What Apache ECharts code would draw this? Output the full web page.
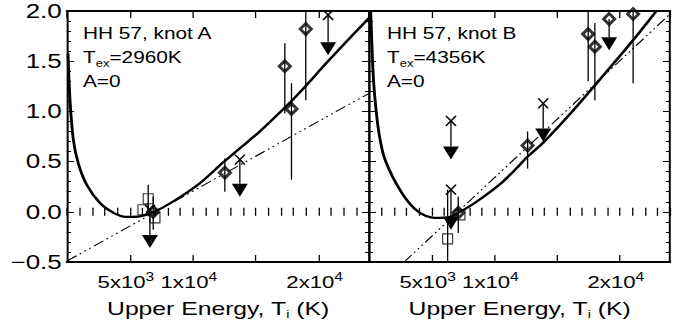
<!DOCTYPE html>
<html>
<head>
<meta charset="utf-8">
<script src="https://cdn.jsdelivr.net/npm/echarts@6/dist/echarts.min.js"></script>
<style>
  html, body { margin: 0; padding: 0; background: #fff; overflow: hidden; }
  #wrap { width: 675px; height: 322px; overflow: hidden; }
  /* the plot is laid out on a narrower canvas and widened, giving the wide lettering of the figure */
  #chart { width: 519px; height: 322px; transform: scaleX(1.3006); transform-origin: 0 0; }
</style>
</head>
<body>
<div id="wrap"><div id="chart"></div></div>
<script>
// ---- axes ----
const X_MIN = 0, X_MAX = 24000;
const Y_MIN = -0.5, Y_MAX = 2.0;
const xLabelValues = [5000, 10000, 20000];
const xLabelBase = ['5x10', '1x10', '2x10'];
const xLabelPower = ['3', '4', '4'];

// ---- knot A ----
const fitA = [[80,1.58],[240,1.11],[500,0.72],[900,0.48],[1560,0.27],[2600,0.09],[3700,-0.01],[4700,-0.05],
  [5800,-0.045],[6850,-0.005],[8400,0.10],[10560,0.285],[12400,0.49],[14530,0.716],[15320,0.80],
  [17970,1.12],[20750,1.50],[22470,1.73],[24000,1.93]];
const lineA = [[0,-0.49],[24000,1.18]];
// [T, value, lower, upper]
const diamondsA = [[6850,0.0,-0.18,0.15],[12545,0.39,0.20,0.53],[17310,1.45,0.98,1.68],[17840,1.025,0.32,1.28],[18977,1.82,1.11,2.1]];
const squaresA = [[6455,0.13,0.0,0.27],[6035,0.02,0.02,0.02],[6990,-0.06,-0.06,-0.06]];
// [T, value, arrow tip, cross drawn (1) or not (0)]
const limitsA = [[6590,0.02,-0.36,1],[13736,0.52,0.15,1],[20750,1.96,1.56,1]];

// ---- knot B ----
const fitB = [[120,2.05],[300,1.45],[480,1.12],[800,0.78],[1276,0.52],[2608,0.19],[3931,0.0],[5263,-0.06],
  [6324,-0.055],[7121,-0.01],[8453,0.09],[10582,0.29],[12040,0.47],[12645,0.55],[13900,0.69],[16000,0.97],
  [18150,1.28],[21060,1.71],[22920,2.0],[23700,2.12]];
const lineB = [[2800,-0.5],[24000,1.97]];
const diamondsB = [[7116,-0.01,-0.21,0.15],[12645,0.66,0.43,0.80],[17475,1.77,1.30,2.1],[18010,1.645,1.11,1.88],[19147,1.92,1.92,1.92],[21060,1.97,1.28,2.1]];
const squaresB = [[6270,-0.27,-0.55,0.22],[7250,-0.03,-0.03,-0.03]];
const limitsB = [[6534,0.905,0.52,1],[6534,0.22,-0.18,1],[13890,1.08,0.70,1],[19147,1.92,1.61,0]];

// ---- labels ----
const panelNames = ['HH 57, knot A', 'HH 57, knot B'];
const panelTex = ['2960', '4356'];
const panelAValue = ['0', '0'];

const K = 1 / 1.3006;           // horizontal compensation for the widened canvas
const FONT = 'Liberation Sans, Arial, Helvetica, sans-serif';

const chart = echarts.init(document.getElementById('chart'), null, { renderer: 'svg' });

function clampY(v) { return Math.max(Y_MIN, Math.min(Y_MAX, v)); }

function renderErrorBar(params, api) {
  const x = api.value(0);
  const lo = clampY(api.value(2)), hi = clampY(api.value(3));
  if (lo === hi) return null;
  const p1 = api.coord([x, lo]), p2 = api.coord([x, hi]);
  return { type: 'line', shape: { x1: p1[0], y1: p1[1], x2: p2[0], y2: p2[1] },
    style: { stroke: '#000', lineWidth: 1 } };
}

function renderLimit(params, api) {
  const c = api.coord([api.value(0), api.value(1)]);
  const t = api.coord([api.value(0), api.value(2)]);
  const hx = 5 * K, hy = 5, tw = 8 * K, th = 13;
  const children = [
    { type: 'line', shape: { x1: c[0], y1: c[1], x2: t[0], y2: t[1]-th }, style: { stroke: '#000', lineWidth: 1 } },
    { type: 'polygon', shape: { points: [[t[0]-tw, t[1]-th], [t[0]+tw, t[1]-th], [t[0], t[1]]] }, style: { fill: '#000' } }
  ];
  if (api.value(3) === 1) {
    children.push(
      { type: 'line', shape: { x1: c[0]-hx, y1: c[1]-hy, x2: c[0]+hx, y2: c[1]+hy }, style: { stroke: '#000', lineWidth: 1.3 } },
      { type: 'line', shape: { x1: c[0]-hx, y1: c[1]+hy, x2: c[0]+hx, y2: c[1]-hy }, style: { stroke: '#000', lineWidth: 1.3 } });
  }
  return { type: 'group', children };
}

function xAxes(gridIndex, withLabels) {
  const base = { type: 'value', gridIndex, min: X_MIN, max: X_MAX, splitLine: { show: false } };
  return [
    Object.assign({}, base, {
      position: 'bottom', interval: 5000,
      axisLine: { show: true, onZero: false, lineStyle: { color: '#000', width: 2 } },
      axisTick: { show: true, inside: true, length: 7, lineStyle: { color: '#000', width: 1 } },
      axisLabel: withLabels ? {
        show: true, margin: 9, showMinLabel: false, showMaxLabel: false, padding: [0, 8 * K, 0, 0],
        formatter: v => { const i = xLabelValues.indexOf(v); return i < 0 ? '' : '{m|' + xLabelBase[i] + '}{s|' + xLabelPower[i] + '}'; },
        rich: { m: { fontSize: 17, fontFamily: FONT, color: '#000', lineHeight: 22 },
                s: { fontSize: 12, fontFamily: FONT, color: '#000', verticalAlign: 'top', lineHeight: 22 } }
      } : { show: false },
      name: 'Upper Energy, T{i|i} (K)', nameLocation: 'middle', nameGap: 36,
      nameTextStyle: { fontSize: 19, fontFamily: FONT, color: '#000',
        rich: { i: { fontSize: 11, fontFamily: FONT, color: '#000', verticalAlign: 'bottom', lineHeight: 22 } } }
    }),
    Object.assign({}, base, {
      position: 'top', interval: 5000,
      axisLine: { show: true, onZero: false, lineStyle: { color: '#000', width: 2 } },
      axisTick: { show: true, inside: true, length: 7, lineStyle: { color: '#000', width: 1 } },
      axisLabel: { show: false }
    }),
    Object.assign({}, base, {
      position: 'bottom', interval: 1000,
      axisLine: { show: false },
      axisTick: { show: true, inside: true, length: 4, lineStyle: { color: '#000', width: 1 } },
      axisLabel: { show: false }
    }),
    Object.assign({}, base, {
      position: 'top', interval: 1000,
      axisLine: { show: false },
      axisTick: { show: true, inside: true, length: 4, lineStyle: { color: '#000', width: 1 } },
      axisLabel: { show: false }
    })
  ];
}

function yAxes(gridIndex, withLabels) {
  const base = { type: 'value', gridIndex, min: Y_MIN, max: Y_MAX, interval: 0.5, splitLine: { show: false },
    axisLine: { show: true, onZero: false, lineStyle: { color: '#000', width: 2 * K } },
    axisTick: { show: true, inside: true, length: 7 * K, lineStyle: { color: '#000', width: 1 } },
    minorTick: { show: true, splitNumber: 5, length: 4 * K, lineStyle: { color: '#000', width: 1 } } };
  return [
    Object.assign({}, base, { position: 'left',
      axisLabel: withLabels ? { show: true, margin: 4, fontSize: 20, fontFamily: FONT, color: '#000',
        formatter: v => (v < 0 ? '\u2212' : '') + Math.abs(v).toFixed(1) } : { show: false } }),
    Object.assign({}, base, { position: 'right', axisLabel: { show: false } })
  ];
}

function panelSeries(xi, yi, fit, line, diamonds, squares, limits) {
  return [
    { type: 'line', xAxisIndex: xi, yAxisIndex: yi, data: line, showSymbol: false, silent: true,
      lineStyle: { color: '#000', width: 1, type: [9, 3, 1.5, 3, 1.5, 3, 1.5, 3] }, z: 2 },
    { type: 'line', xAxisIndex: xi, yAxisIndex: yi, data: fit, showSymbol: false, silent: true,
      smooth: 0.3, lineStyle: { color: '#000', width: 2.2 }, z: 3 },
    { type: 'custom', xAxisIndex: xi, yAxisIndex: yi, data: diamonds.concat(squares), clip: true,
      encode: { x: 0, y: 1 }, renderItem: renderErrorBar, z: 4 },
    { type: 'custom', xAxisIndex: xi, yAxisIndex: yi, data: limits, clip: true,
      encode: { x: 0, y: 1 }, renderItem: renderLimit, z: 5 },
    { type: 'scatter', xAxisIndex: xi, yAxisIndex: yi, data: squares.map(d => [d[0], d[1]]),
      symbol: 'rect', symbolSize: [10 * K, 10],
      itemStyle: { color: 'rgba(0,0,0,0)', borderColor: '#000', borderWidth: 1 }, z: 6 },
    { type: 'scatter', xAxisIndex: xi, yAxisIndex: yi, data: diamonds.map(d => [d[0], d[1]]),
      symbol: 'diamond', symbolSize: [11 * K, 11],
      itemStyle: { color: 'rgba(0,0,0,0)', borderColor: '#000', borderWidth: 2.6 }, z: 7 }
  ];
}

function panelText(i, left) {
  const st = { fontSize: 16, fontFamily: FONT, fill: '#000', verticalAlign: 'middle' };
  return [
    { type: 'text', x: left, y: 33, style: Object.assign({ text: panelNames[i] }, st) },
    { type: 'text', x: left, y: 57, style: Object.assign({ text: 'T{sub|ex}=' + panelTex[i] + 'K',
      rich: { sub: { fontSize: 10, fontFamily: FONT, fill: '#000', verticalAlign: 'bottom', lineHeight: 22 } } }, st) },
    { type: 'text', x: left, y: 81, style: Object.assign({ text: 'A=' + panelAValue[i] }, st) }
  ];
}

const option = {
  animation: false,
  backgroundColor: '#fff',
  grid: [
    { left: 67 * K, top: 11, width: 302 * K, height: 251, outerBoundsMode: 'none' },
    { left: 369 * K, top: 11, width: 301 * K, height: 251, outerBoundsMode: 'none' }
  ],
  xAxis: xAxes(0, true).concat(xAxes(1, true)),
  yAxis: yAxes(0, true).concat(yAxes(1, false)),
  series: panelSeries(0, 0, fitA, lineA, diamondsA, squaresA, limitsA)
    .concat(panelSeries(4, 2, fitB, lineB, diamondsB, squaresB, limitsB)),
  graphic: panelText(0, 83 * K).concat(panelText(1, 387 * K))
};
chart.setOption(option);
</script>
</body>
</html>
